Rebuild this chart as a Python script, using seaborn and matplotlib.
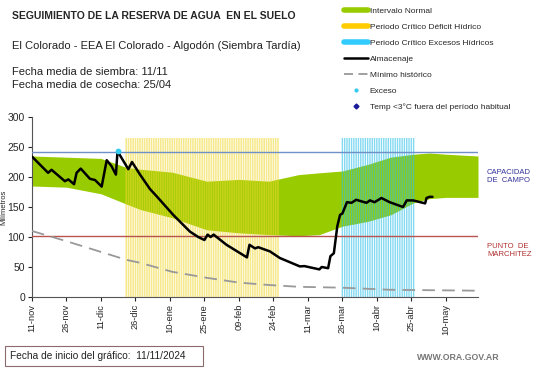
import matplotlib
matplotlib.use("Agg")
import matplotlib.pyplot as plt
import seaborn as sns
import pandas as pd
from matplotlib.lines import Line2D
from matplotlib.patches import Rectangle

# Days counted from 11-nov-2024
tick_days = [0, 15, 30, 45, 60, 75, 90, 105, 120, 135, 150, 165, 180]
tick_labels = ["11-nov", "26-nov", "11-dic", "26-dic", "10-ene", "25-ene", "09-feb",
               "24-feb", "11-mar", "26-mar", "10-abr", "25-abr", "10-may"]

# Normal interval band
band_days = [0, 15, 30, 41, 47, 61, 76, 90, 103, 116, 125, 135, 146, 156, 166, 173, 180, 194]
band_upper = [235, 233, 231, 216, 213, 208, 193, 196, 193, 204, 207, 210, 221, 233, 238, 240, 238, 235]
band_lower = [185, 183, 172, 155, 146, 132, 112, 107, 104, 102, 104, 118, 126, 137, 157, 164, 166, 166]

# Historical minimum
min_days = [0, 15, 41, 47, 61, 76, 90, 103, 116, 135, 156, 194]
min_vals = [110, 93, 62, 57, 42, 32, 24, 20, 17, 15.5, 12, 10.5]

# Soil water storage
alm_days = [0, 7, 8.5, 14.3, 15.8, 18.3, 19.4, 21.2, 25.2, 27.4, 30.3, 32.5, 34.6, 36.5, 37.2,
            41.9, 43.5, 47, 51.3, 54.2, 61.4, 68.7, 72.3, 75, 76.4, 77.7, 79, 84.6, 93.5,
            94.6, 97, 98.4, 103.5, 107.8, 116.5, 118.5, 125, 126, 128.8, 129.8, 131.3,
            132.8, 134, 135, 137, 139, 141, 145.5, 147, 149, 152, 155.6, 161.4, 163,
            165.8, 171, 171.6, 173, 174.2]
alm_vals = [234, 207, 212, 193, 196, 188, 207, 214, 197, 195, 184, 228, 218, 204, 243,
            213, 225, 204, 180, 168, 137, 109, 100, 95, 104, 100, 104, 87, 66,
            87, 81, 83, 76, 65, 51, 51.5, 46, 50, 48, 68, 73,
            118, 137, 139, 158, 157, 162, 157, 161, 158, 165, 158, 150, 161,
            161, 156, 165, 167, 167]

# Excess point
exc_days = [37.2]
exc_vals = [243]

# Critical periods (day ranges)
deficit_days = list(range(41, 108))
excess_days = list(range(135, 167))
period_top = 265

capacidad = 242
marchitez = 101

sns.set_style("white")
plt.rcParams["font.family"] = ["Liberation Sans", "DejaVu Sans"]

fig = plt.figure(figsize=(5.41, 3.68), dpi=100)
ax = fig.add_axes([32 / 541, 1 - 297 / 368, 446 / 541, 180 / 368])

ax.fill_between(band_days, band_lower, band_upper, color="#99cc00", lw=0, zorder=1)
ax.bar(deficit_days, [period_top] * len(deficit_days), width=0.7,
       color="#f0d830", alpha=0.55, lw=0, zorder=2, snap=False)
ax.bar(excess_days, [period_top] * len(excess_days), width=0.6,
       color="#30c0e8", alpha=0.6, lw=0, zorder=2, snap=False)

ax.axhline(capacidad, color="#7090c8", lw=1.0, zorder=3)
ax.axhline(marchitez, color="#b85450", lw=1.0, zorder=3)

df_min = pd.DataFrame({"dia": min_days, "mm": min_vals})
sns.lineplot(data=df_min, x="dia", y="mm", ax=ax, color="#999999", lw=1.3,
             estimator=None, zorder=4).lines[-1].set_dashes((7, 4))

df_alm = pd.DataFrame({"dia": alm_days, "mm": alm_vals})
sns.lineplot(data=df_alm, x="dia", y="mm", ax=ax, color="black", lw=1.8,
             estimator=None, zorder=5)
ax.scatter(exc_days, exc_vals, s=10, color="#33ccee", zorder=6)

ax.set_xlim(0, 194)
ax.set_ylim(0, 300)
ax.set_yticks(range(0, 301, 50))
ax.set_xticks(tick_days)
ax.set_xticklabels(tick_labels, rotation=90, fontsize=6.7)
ax.tick_params(axis="y", labelsize=7.5, length=3, pad=2, left=True)
ax.tick_params(axis="x", length=3, pad=2, direction="out", bottom=True)
ax.set_xlabel("")
ax.set_ylabel("Milímetros", fontsize=5.5)
ax.yaxis.set_label_coords(-0.056, 0.5)
for s in ["top", "right"]:
    ax.spines[s].set_visible(False)
for s in ["left", "bottom"]:
    ax.spines[s].set_color("#555555")
    ax.spines[s].set_linewidth(0.8)

# Header texts
fig.text(12 / 541, 1 - 16 / 368, "SEGUIMIENTO DE LA RESERVA DE AGUA  EN EL SUELO",
         fontsize=7.5, fontweight="bold", va="center")
fig.text(12 / 541, 1 - 46 / 368, "El Colorado - EEA El Colorado - Algodón (Siembra Tardía)",
         fontsize=8, va="center", color="#222222")
fig.text(12 / 541, 1 - 72 / 368, "Fecha media de siembra: 11/11",
         fontsize=8, va="center", color="#222222")
fig.text(12 / 541, 1 - 85 / 368, "Fecha media de cosecha: 25/04",
         fontsize=8, va="center", color="#222222")

# Legend
handles = [
    Line2D([], [], color="#99cc00", lw=4),
    Line2D([], [], color="#ffcc00", lw=4),
    Line2D([], [], color="#33ccff", lw=4),
    Line2D([], [], color="black", lw=1.8),
    Line2D([], [], color="#999999", lw=1.3, dashes=(5, 3)),
    Line2D([], [], color="#33ccee", lw=0, marker="o", markersize=2),
    Line2D([], [], color="#1a1a99", lw=0, marker="D", markersize=2.5),
]
labels = ["Intervalo Normal", "Periodo Crítico Déficit Hídrico",
          "Periodo Crítico Excesos Hídricos", "Almacenaje", "Mínimo histórico",
          "Exceso", "Temp <3°C fuera del período habitual"]
fig.legend(handles, labels, loc="upper left", bbox_to_anchor=(341 / 541, 1 - 4 / 368),
           frameon=False, fontsize=6, handlelength=2.8, handletextpad=0.25,
           labelspacing=0.97, borderaxespad=0)

# Right side labels
fig.text(487 / 541, 1 - 176 / 368, "CAPACIDAD\nDE  CAMPO", fontsize=5.5,
         color="#333399", va="center", linespacing=1.2)
fig.text(487 / 541, 1 - 250 / 368, "PUNTO  DE\nMARCHITEZ", fontsize=5.5,
         color="#b03030", va="center", linespacing=1.2)

# Footer
fig.patches.append(Rectangle((5 / 541, 2 / 368), 198 / 541, 20 / 368,
                             transform=fig.transFigure, fill=False,
                             edgecolor="#8a6a6a", lw=0.8))
fig.text(10 / 541, 1 - 356 / 368, "Fecha de inicio del gráfico:  11/11/2024",
         fontsize=7.3, va="center", color="#222222")
fig.text(500 / 541, 1 - 358 / 368, "WWW.ORA.GOV.AR", fontsize=6.3,
         ha="right", va="center", color="#777777", fontweight="bold")

fig.savefig("out.png", dpi=100)
